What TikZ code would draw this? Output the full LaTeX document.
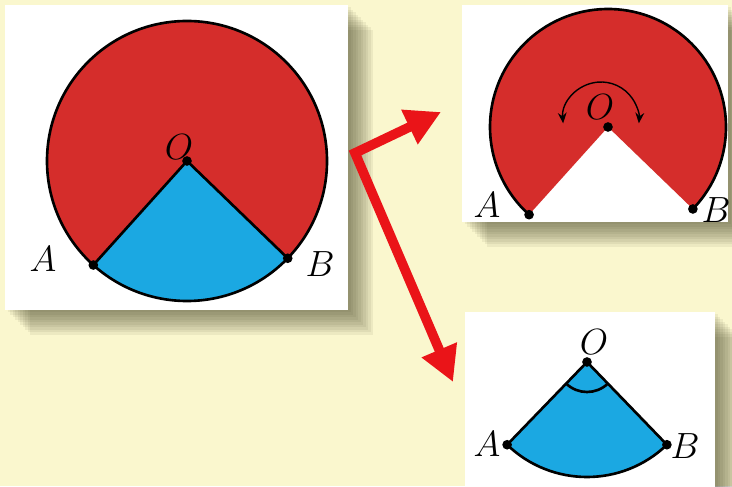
\documentclass[tikz,border=0pt]{standalone}
\RequirePackage{amsmath}
\usepackage{tikz}
\usepackage{xcolor}
\usetikzlibrary{arrows.meta}

\definecolor{bgyellow}{RGB}{250,247,206}
\definecolor{shadowolive}{RGB}{60,60,30}
\definecolor{sectorred}{RGB}{213,45,43}
\definecolor{sectorblue}{RGB}{27,168,226}
\definecolor{arrowred}{RGB}{234,20,24}

\tikzset{
	dot/.style={circle,fill=black,inner sep=0pt,minimum size=5.5pt},
	lab/.style={font=\fontsize{20}{22}\selectfont},
	rim/.style={black,line width=1.5pt},
	bigarrow/.style={arrowred,line width=5.5pt,miter limit=20,{Triangle[length=0.7cm,width=0.72cm]}-{Triangle[length=0.7cm,width=0.72cm]}},
	turn/.style={black,line width=0.8pt,{Stealth[length=6pt,width=5pt]}-{Stealth[length=6pt,width=5pt]}},
}

\begin{document}
\begin{tikzpicture}[x=0.02cm,y=0.02cm]
	\clip (0,0) rectangle (732,486);
	\fill[bgyellow] (0,0) rectangle (732,486);
	
	\foreach \s in {1,...,10} \fill[shadowolive,opacity=0.07] (5+2.5*\s,176-2.5*\s) rectangle (348+2.5*\s,481-2.5*\s);
	\foreach \s in {1,...,10} \fill[shadowolive,opacity=0.07] (462+2.5*\s,264-2.5*\s) rectangle (728+2.5*\s,481-2.5*\s);
	\foreach \s in {1,...,10} \fill[shadowolive,opacity=0.07] (465+2.5*\s,-20) rectangle (715+2.5*\s,174-2.5*\s);
	\fill[white] (5,176) rectangle (348,481);
	\fill[white] (462,264) rectangle (728,481);
	\fill[white] (465,-20) rectangle (715,174);
	
	\coordinate (O1) at (187,325);
	\coordinate (A1) at ([shift={(228:140)}]O1);
	\coordinate (B1) at ([shift={(-44:140)}]O1);
	\fill[sectorred] (O1) -- (B1) arc[start angle=-44,end angle=228,radius=140] -- cycle;
	\fill[sectorblue] (O1) -- (A1) arc[start angle=228,end angle=316,radius=140] -- cycle;
	\draw[rim] (O1) circle[radius=140];
	\draw[rim] (A1) -- (O1) -- (B1);
	\node[dot] (o1) at (O1) {};
	\node[dot] (a1) at (A1) {};
	\node[dot] (b1) at (B1) {};
	\node[lab] (o1lab) at (179,339) {$O$};
	\node[lab] (a1lab) at (43,227) {$A$};
	\node[lab] (b1lab) at (320,222) {$B$};
	
	\coordinate (O2) at (608,359);
	\coordinate (A2) at ([shift={(228:118)}]O2);
	\coordinate (B2) at ([shift={(-44:118)}]O2);
	\fill[sectorred] (O2) -- (B2) arc[start angle=-44,end angle=228,radius=118] -- cycle;
	\draw[rim] (B2) arc[start angle=-44,end angle=228,radius=118];
	\node[dot] (o2) at (O2) {};
	\node[dot] (a2) at (A2) {};
	\node[dot] (b2) at (B2) {};
	\node[lab] (o2lab) at (600,379) {$O$};
	\node[lab] (a2lab) at (487,281) {$A$};
	\node[lab] (b2lab) at (716,276) {$B$};
	\coordinate (turnc) at (601,366);
	\draw[turn] ([shift={(185:38)}]turnc) arc[start angle=185,end angle=-5,radius=38];
	
	\coordinate (O3) at (587,124);
	\coordinate (A3) at ([shift={(226:115)}]O3);
	\coordinate (B3) at ([shift={(-46:115)}]O3);
	\fill[sectorblue] (O3) -- (A3) arc[start angle=226,end angle=314,radius=115] -- cycle;
	\draw[rim] (O3) -- (A3) arc[start angle=226,end angle=314,radius=115] -- cycle;
	\draw[rim] ([shift={(226:30)}]O3) arc[start angle=226,end angle=314,radius=30];
	\node[dot] (o3) at (O3) {};
	\node[dot] (a3) at (A3) {};
	\node[dot] (b3) at (B3) {};
	\node[lab] (o3lab) at (594,144) {$O$};
	\node[lab] (a3lab) at (487,42) {$A$};
	\node[lab] (b3lab) at (685,40) {$B$};
	
	\coordinate (bend) at (355,333);
	\coordinate (uptip) at (441,374);
	\coordinate (downtip) at (453,104);
	\draw[bigarrow] (uptip) -- (bend) -- (downtip);
\end{tikzpicture}
\end{document}
